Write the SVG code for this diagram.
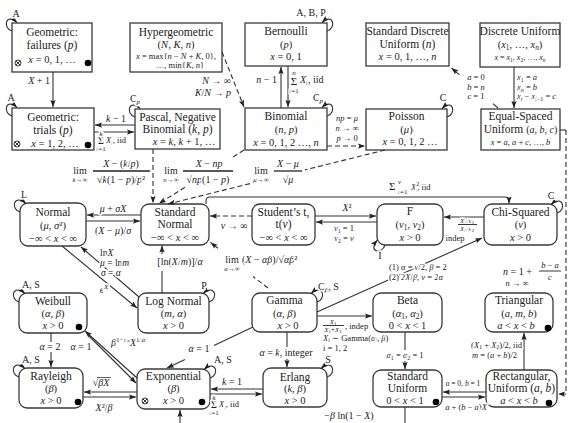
<svg xmlns="http://www.w3.org/2000/svg" width="572" height="423" viewBox="0 0 572 423">
<style>
.box{fill:#fff;stroke:#3a3a3a;stroke-width:1.3}
text{font-family:"Liberation Serif","DejaVu Serif",serif;fill:#222}
.t{font-size:11.5px;text-anchor:middle}
.v{font-size:10.5px;text-anchor:middle}
.lab{font-size:10px;text-anchor:middle;paint-order:stroke;stroke:#fff;stroke-width:3px;stroke-linejoin:round}
.sm{font-size:8.5px}
.xs{font-size:7px}
.st{text-anchor:start}
.en{text-anchor:end}
.i{font-style:italic}
.sb{font-size:70%}
.c{fill:none;stroke:#333;stroke-width:1.1}
.d{stroke-dasharray:5 3}
.bar{stroke:#222;stroke-width:1.3}
</style>
<defs>
<marker id="ah" viewBox="0 0 8 6" refX="8" refY="3" markerWidth="7" markerHeight="5.5" markerUnits="userSpaceOnUse" orient="auto"><path d="M0,0 L8,3 L0,6 L1.5,3 z" fill="#222"/></marker>
<g id="ot"><circle r="3" fill="#fff" stroke="#222" stroke-width="0.9"/><path d="M-2.1,-2.1 L2.1,2.1 M-2.1,2.1 L2.1,-2.1" stroke="#222" stroke-width="0.9"/></g>
<circle id="dt" r="3.3" fill="#000"/>
</defs>

<!-- nodes -->
<g id="geometric-failures">
<rect class="box" x="12" y="23" width="80" height="49"/>
<text class="t" x="52" y="36">Geometric:</text>
<text class="t" x="52" y="49">failures (<tspan class="i">p</tspan>)</text>
<text class="v" x="52" y="63"><tspan class="i">x</tspan> = 0, 1, …</text>
<use href="#ot" x="18" y="63"/><use href="#dt" x="88" y="63"/>
</g>
<g id="hypergeometric">
<rect class="box" x="130" y="23" width="92" height="49"/>
<text class="t" x="176" y="36">Hypergeometric</text>
<text class="v" x="176" y="48">(<tspan class="i">N</tspan>, <tspan class="i">K</tspan>, <tspan class="i">n</tspan>)</text>
<text class="v" x="176" y="59" style="font-size:8.5px"><tspan class="i">x</tspan> = max{<tspan class="i">n</tspan> − <tspan class="i">N</tspan> + <tspan class="i">K</tspan>, 0},</text>
<text class="v" x="180" y="67.5" style="font-size:8.5px">…, min{<tspan class="i">K</tspan>, <tspan class="i">n</tspan>}</text>
</g>
<g id="bernoulli">
<rect class="box" x="245" y="23" width="82" height="43"/>
<text class="t" x="286" y="35">Bernoulli</text>
<text class="v" x="286" y="48">(<tspan class="i">p</tspan>)</text>
<text class="v" x="286" y="60"><tspan class="i">x</tspan> = 0, 1</text>
</g>
<g id="standard-discrete-uniform">
<rect class="box" x="366" y="23" width="83" height="43"/>
<text class="t" x="407.5" y="35">Standard Discrete</text>
<text class="t" x="407.5" y="48">Uniform (<tspan class="i">n</tspan>)</text>
<text class="v" x="407.5" y="60"><tspan class="i">x</tspan> = 0, 1, …, <tspan class="i">n</tspan></text>
</g>
<g id="discrete-uniform">
<rect class="box" x="480" y="23" width="80" height="44"/>
<text class="t" x="520" y="35">Discrete Uniform</text>
<text class="v" x="520" y="48">(<tspan class="i">x</tspan><tspan class="sb" dy="2">1</tspan><tspan dy="-2">, …, </tspan><tspan class="i">x</tspan><tspan class="sb i" dy="2">n</tspan><tspan dy="-2">)</tspan></text>
<text class="v" x="520" y="60" style="font-size:8px"><tspan class="i">x</tspan> = <tspan class="i">x</tspan><tspan class="sb" dy="1.5">1</tspan><tspan dy="-1.5">, </tspan><tspan class="i">x</tspan><tspan class="sb" dy="1.5">2</tspan><tspan dy="-1.5">, …, </tspan><tspan class="i">x</tspan><tspan class="sb i" dy="1.5">n</tspan></text>
</g>

<g id="geometric-trials">
<rect class="box" x="12" y="108" width="82" height="42"/>
<text class="t" x="53" y="121">Geometric:</text>
<text class="t" x="53" y="134">trials (<tspan class="i">p</tspan>)</text>
<text class="v" x="55" y="147"><tspan class="i">x</tspan> = 1, 2, …</text>
<use href="#ot" x="17" y="144"/><use href="#dt" x="88" y="145"/>
</g>
<g id="pascal">
<rect class="box" x="135" y="109" width="85" height="40"/>
<text class="t" x="177.5" y="121">Pascal, Negative</text>
<text class="t" x="177.5" y="133">Binomial (<tspan class="i">k</tspan>, <tspan class="i">p</tspan>)</text>
<text class="v" x="184" y="145"><tspan class="i">x</tspan> = <tspan class="i">k</tspan>, <tspan class="i">k</tspan> + 1, …</text>
</g>
<g id="binomial">
<rect class="box" x="245" y="108" width="82" height="42"/>
<text class="t" x="286" y="120">Binomial</text>
<text class="v" x="286" y="133">(<tspan class="i">n</tspan>, <tspan class="i">p</tspan>)</text>
<text class="v" x="286" y="146"><tspan class="i">x</tspan> = 0, 1, 2 …, <tspan class="i">n</tspan></text>
</g>
<g id="poisson">
<rect class="box" x="366" y="109" width="81" height="41"/>
<text class="t" x="406.5" y="120">Poisson</text>
<text class="v" x="406.5" y="133">(<tspan class="i">μ</tspan>)</text>
<text class="v" x="410" y="145"><tspan class="i">x</tspan> = 0, 1, 2 …</text>
</g>
<g id="equal-spaced-uniform">
<rect class="box" x="481" y="109" width="79" height="41"/>
<text class="t" x="520.5" y="120">Equal-Spaced</text>
<text class="t" x="520.5" y="133">Uniform <tspan style="font-size:10px">(<tspan class="i">a</tspan>, <tspan class="i">b</tspan>, <tspan class="i">c</tspan>)</tspan></text>
<text class="v" x="520.5" y="145" style="font-size:8.5px"><tspan class="i">x</tspan> = <tspan class="i">a</tspan>, <tspan class="i">a</tspan> + <tspan class="i">c</tspan>, …, <tspan class="i">b</tspan></text>
</g>

<g id="normal">
<rect class="box" x="20" y="203" width="66" height="43" rx="8"/>
<text class="t" x="53" y="216">Normal</text>
<text class="v" x="53" y="229">(<tspan class="i">μ</tspan>, <tspan class="i">σ</tspan>²)</text>
<text class="v" x="53" y="242">−∞ &lt; <tspan class="i">x</tspan> &lt; ∞</text>
</g>
<g id="standard-normal">
<rect class="box" x="141" y="204" width="68" height="41" rx="8"/>
<text class="t" x="175" y="216">Standard</text>
<text class="t" x="175" y="228">Normal</text>
<text class="v" x="175" y="241">−∞ &lt; <tspan class="i">x</tspan> &lt; ∞</text>
</g>
<g id="students-t">
<rect class="box" x="252" y="204" width="63" height="41" rx="8"/>
<text class="t" x="283.5" y="216">Student’s t,</text>
<text class="t" x="283.5" y="228">t(<tspan class="i">ν</tspan>)</text>
<text class="v" x="283.5" y="241">−∞ &lt; <tspan class="i">x</tspan> &lt; ∞</text>
</g>
<g id="f">
<rect class="box" x="377" y="204" width="66" height="41" rx="8"/>
<text class="t" x="410" y="215">F</text>
<text class="v" x="410" y="228">(<tspan class="i">ν</tspan><tspan class="sb" dy="2">1</tspan><tspan dy="-2">, </tspan><tspan class="i">ν</tspan><tspan class="sb" dy="2">2</tspan><tspan dy="-2">)</tspan></text>
<text class="v" x="410" y="241"><tspan class="i">x</tspan> &gt; 0</text>
</g>
<g id="chi-squared">
<rect class="box" x="484" y="204" width="73" height="41" rx="8"/>
<text class="t" x="520.5" y="216">Chi-Squared</text>
<text class="v" x="520.5" y="228">(<tspan class="i">ν</tspan>)</text>
<text class="v" x="520.5" y="241"><tspan class="i">x</tspan> &gt; 0</text>
</g>

<g id="weibull">
<rect class="box" x="19" y="293" width="68" height="40" rx="8"/>
<text class="t" x="53" y="305">Weibull</text>
<text class="v" x="53" y="317">(<tspan class="i">α</tspan>, <tspan class="i">β</tspan>)</text>
<text class="v" x="53" y="329"><tspan class="i">x</tspan> &gt; 0</text>
<use href="#dt" x="79" y="327"/>
</g>
<g id="log-normal">
<rect class="box" x="138" y="293" width="71" height="40" rx="8"/>
<text class="t" x="173.5" y="305">Log Normal</text>
<text class="v" x="173.5" y="317">(<tspan class="i">m</tspan>, <tspan class="i">α</tspan>)</text>
<text class="v" x="173.5" y="329"><tspan class="i">x</tspan> &gt; 0</text>
</g>
<g id="gamma">
<rect class="box" x="252" y="293" width="65" height="39" rx="8"/>
<text class="t" x="284.5" y="304">Gamma</text>
<text class="v" x="284.5" y="317">(<tspan class="i">α</tspan>, <tspan class="i">β</tspan>)</text>
<text class="v" x="288" y="329"><tspan class="i">x</tspan> &gt; 0</text>
</g>
<g id="beta">
<rect class="box" x="373" y="293" width="69" height="39" rx="8"/>
<text class="t" x="407.5" y="304">Beta</text>
<text class="v" x="407.5" y="317">(<tspan class="i">α</tspan><tspan class="sb" dy="2">1</tspan><tspan dy="-2">, </tspan><tspan class="i">α</tspan><tspan class="sb" dy="2">2</tspan><tspan dy="-2">)</tspan></text>
<text class="v" x="407.5" y="329">0 &lt; <tspan class="i">x</tspan> &lt; 1</text>
</g>
<g id="triangular">
<rect class="box" x="485" y="293" width="68" height="39" rx="8"/>
<text class="t" x="519" y="304">Triangular</text>
<text class="v" x="519" y="317">(<tspan class="i">a</tspan>, <tspan class="i">m</tspan>, <tspan class="i">b</tspan>)</text>
<text class="v" x="516" y="329"><tspan class="i">a</tspan> &lt; <tspan class="i">x</tspan> &lt; <tspan class="i">b</tspan></text>
<use href="#dt" x="548" y="328"/>
</g>

<g id="rayleigh">
<rect class="box" x="19" y="368" width="64" height="40" rx="8"/>
<text class="t" x="51" y="380">Rayleigh</text>
<text class="v" x="51" y="392">(<tspan class="i">β</tspan>)</text>
<text class="v" x="51" y="404"><tspan class="i">x</tspan> &gt; 0</text>
<use href="#dt" x="78" y="402"/>
</g>
<g id="exponential">
<rect class="box" x="137" y="369" width="73" height="40" rx="8"/>
<text class="t" x="173.5" y="380">Exponential</text>
<text class="v" x="173.5" y="392">(<tspan class="i">β</tspan>)</text>
<text class="v" x="173.5" y="404"><tspan class="i">x</tspan> &gt; 0</text>
<use href="#ot" x="145" y="401"/><use href="#dt" x="202" y="402"/>
</g>
<g id="erlang">
<rect class="box" x="263" y="368" width="64" height="39" rx="8"/>
<text class="t" x="295" y="381">Erlang</text>
<text class="v" x="295" y="392">(<tspan class="i">k</tspan>, <tspan class="i">β</tspan>)</text>
<text class="v" x="295" y="404"><tspan class="i">x</tspan> &gt; 0</text>
</g>
<g id="standard-uniform">
<rect class="box" x="373" y="370" width="69" height="37" rx="8"/>
<text class="t" x="407.5" y="380">Standard</text>
<text class="t" x="407.5" y="392">Uniform</text>
<text class="v" x="405" y="404">0 &lt; <tspan class="i">x</tspan> &lt; 1</text>
<use href="#dt" x="436" y="402"/>
</g>
<g id="rectangular-uniform">
<rect class="box" x="486" y="370" width="71" height="37" rx="8"/>
<text class="t" x="521.5" y="380">Rectangular,</text>
<text class="t" x="521.5" y="392">Uniform (<tspan class="i">a</tspan>, <tspan class="i">b</tspan>)</text>
<text class="v" x="519" y="404"><tspan class="i">a</tspan> &lt; <tspan class="i">x</tspan> &lt; <tspan class="i">b</tspan></text>
<use href="#dt" x="549" y="403"/>
</g>

<!-- connectors -->
<g id="connectors">
<!-- self loops -->
<path class="c" marker-end="url(#ah)" d="M12 31 C2 28 6 12 17 22.5"/>
<path class="c" marker-end="url(#ah)" d="M12 116 C2 113 6 97 17 107.5"/>
<path class="c" marker-end="url(#ah)" d="M135 117 C125 114 129 98 140 108.5"/>
<path class="c" marker-end="url(#ah)" d="M327 31 C337 28 333 12 322 22.5"/>
<path class="c" marker-end="url(#ah)" d="M327 116 C337 113 333 97 322 107.5"/>
<path class="c" marker-end="url(#ah)" d="M447 117 C457 114 453 98 442 108.5"/>
<path class="c" marker-end="url(#ah)" d="M20 212 C10 209 14 193 26 203.5"/>
<path class="c" marker-end="url(#ah)" d="M557 213 C567 210 563 194 551 204.5"/>
<path class="c" marker-end="url(#ah)" d="M385 245 C382 255 367 252 377.5 240"/>
<path class="c" marker-end="url(#ah)" d="M19 302 C9 299 13 283 25 293.5"/>
<path class="c" marker-end="url(#ah)" d="M19 377 C9 374 13 358 25 368.5"/>
<path class="c" marker-end="url(#ah)" d="M209 302 C219 299 215 283 203 293.5"/>
<path class="c" marker-end="url(#ah)" d="M317 302 C327 299 323 283 311 293.5"/>
<path class="c" marker-end="url(#ah)" d="M210 378 C220 375 216 359 204 369.5"/>
<path class="c" marker-end="url(#ah)" d="M327 377 C337 374 333 358 321 368.5"/>
<text class="lab" x="16" y="17">A</text>
<text class="lab" x="11" y="101">A</text>
<text class="lab" x="135" y="102">C<tspan class="sb i" dy="2">p</tspan></text>
<text class="lab" x="311" y="16">A, B, P</text>
<text class="lab" x="318" y="101">C<tspan class="sb i" dy="2">p</tspan></text>
<text class="lab" x="443" y="101">C</text>
<text class="lab" x="24" y="198">L</text>
<text class="lab" x="551" y="199">C</text>
<text class="lab" x="380" y="259">I</text>
<text class="lab" x="31" y="288">A, S</text>
<text class="lab" x="31" y="363">A, S</text>
<text class="lab" x="204" y="289">P</text>
<text class="lab st" x="318" y="290">C<tspan class="sb i" dy="2">β</tspan><tspan dy="-2">, S</tspan></text>
<text class="lab" x="223" y="363">A, S</text>
<text class="lab" x="328" y="363">S</text>

<!-- top rows -->
<path class="c" marker-end="url(#ah)" d="M53 72 V107"/>
<text class="lab en" x="50" y="84"><tspan class="i">X</tspan> + 1</text>

<path class="c" marker-end="url(#ah)" d="M135 125 H95"/>
<path class="c" marker-end="url(#ah)" d="M94 132 H134"/>
<text class="lab" x="116" y="122"><tspan class="i">k</tspan> − 1</text>
<text class="lab" x="101" y="144" style="font-size:10px">Σ</text>
<text class="lab xs i" x="101" y="135.5">k</text>
<text class="lab xs" x="101" y="150.5"><tspan class="i">i</tspan>=1</text>
<text class="lab sm st" x="106" y="143"><tspan class="i">X</tspan><tspan class="sb i" dy="2">i</tspan><tspan dy="-2">, iid</tspan></text>

<path class="c d" marker-end="url(#ah)" d="M222 52 L244 107"/>
<text class="lab en" x="231" y="84"><tspan class="i">N</tspan> → ∞</text>
<text class="lab en" x="231" y="96"><tspan class="i">K</tspan>/<tspan class="i">N</tspan> → <tspan class="i">p</tspan></text>

<path class="c" marker-end="url(#ah)" d="M281 108 V67"/>
<path class="c" marker-end="url(#ah)" d="M288 66 V107"/>
<text class="lab en" x="277" y="83"><tspan class="i">n</tspan> − 1</text>
<text class="lab" x="294" y="85" style="font-size:11px">Σ</text>
<text class="lab xs i" x="294" y="74.5">n</text>
<text class="lab xs" x="294" y="92.5"><tspan class="i">i</tspan>=1</text>
<text class="lab st" x="300" y="83"><tspan class="i">X</tspan><tspan class="sb i" dy="2">i</tspan><tspan dy="-2">,  iid</tspan></text>

<path class="c d" marker-end="url(#ah)" d="M327 146 H365"/>
<text class="lab sm" x="347" y="121"><tspan class="i">np</tspan> = <tspan class="i">μ</tspan></text>
<text class="lab sm" x="347" y="131"><tspan class="i">n</tspan> → ∞</text>
<text class="lab sm" x="347" y="141"><tspan class="i">p</tspan> → 0</text>

<path class="c" marker-end="url(#ah)" d="M514 67 V108"/>
<text class="lab sm st" x="517" y="80"><tspan class="i">x</tspan><tspan class="sb" dy="2">1</tspan><tspan dy="-2"> = </tspan><tspan class="i">a</tspan></text>
<text class="lab sm st" x="517" y="89.5"><tspan class="i">x</tspan><tspan class="sb i" dy="2">n</tspan><tspan dy="-2"> = </tspan><tspan class="i">b</tspan></text>
<text class="lab sm st" x="517" y="99"><tspan class="i">x</tspan><tspan class="sb i" dy="2">i</tspan><tspan dy="-2"> − </tspan><tspan class="i">x</tspan><tspan class="sb" dy="2"><tspan class="i">i</tspan>−1</tspan><tspan dy="-2"> = </tspan><tspan class="i">c</tspan></text>
<path class="c" marker-end="url(#ah)" d="M498 108 L493 103.7 M459.5 74.8 L451.5 68"/>
<text class="lab sm" x="476" y="80"><tspan class="i">a</tspan> = 0</text>
<text class="lab sm" x="476" y="89.5"><tspan class="i">b</tspan> = <tspan class="i">n</tspan></text>
<text class="lab sm" x="476" y="99"><tspan class="i">c</tspan> = 1</text>

<!-- limits to standard normal -->
<path class="c d" marker-end="url(#ah)" d="M153 149 V203"/>
<path class="c d" marker-end="url(#ah)" d="M244 150 L233 157 M185 187.3 L159 203.5"/>
<path class="c d" marker-end="url(#ah)" d="M385 150 L305 169.9 M250 183.6 L168 204"/>
<text class="lab" x="80" y="174">lim</text>
<text class="lab xs" x="80" y="181.5"><tspan class="i">k</tspan>→∞</text>
<text class="lab" x="121" y="167"><tspan class="i">X</tspan> − (<tspan class="i">k</tspan>/<tspan class="i">p</tspan>)</text>
<line class="bar" x1="93" y1="171" x2="150" y2="171"/>
<text class="lab" x="121" y="183">√<tspan class="i">k</tspan>(1 − <tspan class="i">p</tspan>)/<tspan class="i">p</tspan>²</text>
<text class="lab" x="171" y="174">lim</text>
<text class="lab xs" x="171" y="181.5"><tspan class="i">n</tspan>→∞</text>
<text class="lab" x="209" y="167"><tspan class="i">X</tspan> − <tspan class="i">np</tspan></text>
<line class="bar" x1="183" y1="171" x2="233" y2="171"/>
<text class="lab" x="208" y="183">√<tspan class="i">np</tspan>(1 − <tspan class="i">p</tspan>)</text>
<text class="lab" x="261" y="174">lim</text>
<text class="lab xs" x="261" y="181.5"><tspan class="i">μ</tspan>→∞</text>
<text class="lab" x="288" y="167"><tspan class="i">X</tspan> − <tspan class="i">μ</tspan></text>
<line class="bar" x1="274" y1="171" x2="302" y2="171"/>
<text class="lab" x="288" y="183">√<tspan class="i">μ</tspan></text>

<!-- third row -->
<path class="c" marker-end="url(#ah)" d="M141 215 H87"/>
<path class="c" marker-end="url(#ah)" d="M86 221 H140"/>
<text class="lab" x="113" y="212"><tspan class="i">μ</tspan> + <tspan class="i">σX</tspan></text>
<text class="lab" x="113" y="234">(<tspan class="i">X</tspan> − <tspan class="i">μ</tspan>)/<tspan class="i">σ</tspan></text>

<path class="c d" marker-end="url(#ah)" d="M252 216 H210"/>
<text class="lab" x="234" y="229"><tspan class="i">ν</tspan> → ∞</text>

<path class="c" marker-end="url(#ah)" d="M315 216 H376"/>
<path class="c" marker-end="url(#ah)" d="M377 222 H316"/>
<text class="lab" x="347" y="211"><tspan class="i">X</tspan>²</text>
<text class="lab sm" x="344" y="231"><tspan class="i">ν</tspan><tspan class="sb" dy="2">1</tspan><tspan dy="-2"> = 1</tspan></text>
<text class="lab sm" x="344" y="240.5"><tspan class="i">ν</tspan><tspan class="sb" dy="2">2</tspan><tspan dy="-2"> = </tspan><tspan class="i">ν</tspan></text>

<path class="c" marker-end="url(#ah)" d="M206 204 V201 Q206 197 210 197 H505 Q509 197 509 201 V203.5"/>
<text class="lab st" x="389" y="190" style="font-size:11px">Σ</text>
<text class="lab xs st" x="398" y="184"><tspan class="i">ν</tspan></text>
<text class="lab xs st" x="398" y="193.5"><tspan class="i">i</tspan>=1</text>
<text class="lab sm st" x="411" y="190"><tspan class="i">X</tspan><tspan class="sb" dy="-4">2</tspan><tspan class="sb i" dx="-3.5" dy="6">i</tspan><tspan dy="-2">, iid</tspan></text>

<path class="c" marker-end="url(#ah)" d="M484 217 H444"/>
<text class="lab xs" x="467" y="222.5"><tspan class="i">X</tspan><tspan class="sb" dy="1">1</tspan><tspan dy="-1">/</tspan><tspan class="i">ν</tspan><tspan class="sb" dy="1">1</tspan></text>
<line class="bar" x1="458" y1="224.5" x2="477" y2="224.5" style="stroke-width:0.9"/>
<text class="lab xs" x="467" y="231"><tspan class="i">X</tspan><tspan class="sb" dy="1">2</tspan><tspan dy="-1">/</tspan><tspan class="i">ν</tspan><tspan class="sb" dy="1">2</tspan></text>
<text class="lab sm" x="455" y="240.5">indep</text>

<path class="c" marker-end="url(#ah)" d="M317 312 L482 238"/>
<text class="lab sm st" x="389" y="270">(1) <tspan class="i">α</tspan> = <tspan class="i">ν</tspan>/2, <tspan class="i">β</tspan> = 2</text>
<text class="lab sm st" x="389" y="280">(2) 2<tspan class="i">X</tspan>/<tspan class="i">β</tspan>, <tspan class="i">ν</tspan> = 2<tspan class="i">α</tspan></text>

<path class="c" marker-end="url(#ah)" d="M317 316 H372"/>
<text class="lab xs" x="333" y="323.5"><tspan class="i">X</tspan><tspan class="sb" dy="1">1</tspan></text>
<line class="bar" x1="323" y1="325.5" x2="344" y2="325.5" style="stroke-width:0.9"/>
<text class="lab xs" x="333" y="331.5"><tspan class="i">X</tspan><tspan class="sb" dy="1">1</tspan><tspan dy="-1">+</tspan><tspan class="i">X</tspan><tspan class="sb" dy="1">2</tspan></text>
<text class="lab sm st" x="345" y="329">, indep</text>
<text class="lab sm st" x="323" y="340.5"><tspan class="i">X</tspan><tspan class="sb i" dy="1.5">i</tspan><tspan dy="-1.5"> ∼ Gamma(</tspan><tspan class="i">α</tspan><tspan class="sb i" dy="1.5">i</tspan><tspan dy="-1.5">, </tspan><tspan class="i">β</tspan>)</text>
<text class="lab sm st" x="323" y="351">i = 1, 2</text>

<path class="c d" marker-end="url(#ah)" d="M268 288 L253 276.5 M218 248.3 L210.5 242.4"/>
<text class="lab" x="232" y="263">lim</text>
<text class="lab xs" x="232" y="270.5"><tspan class="i">α</tspan>→∞</text>
<text class="lab st" x="242" y="263">(<tspan class="i">X</tspan> − <tspan class="i">αβ</tspan>)/√<tspan class="i">αβ</tspan>²</text>

<path class="c" marker-end="url(#ah)" d="M162 293 V271 M162 254 V245.5"/>
<text class="lab" x="180" y="265">[ln(<tspan class="i">X</tspan>/<tspan class="i">m</tspan>)]/<tspan class="i">α</tspan></text>

<path class="c" marker-end="url(#ah)" d="M139 297 L81 247"/>
<path class="c" marker-end="url(#ah)" d="M62 246 L137 308"/>
<text class="lab st" x="100" y="256" style="font-size:9.5px">ln<tspan class="i">X</tspan></text>
<text class="lab st" x="100" y="266" style="font-size:9.5px"><tspan class="i">μ</tspan> = ln<tspan class="i">m</tspan></text>
<text class="lab st" x="101" y="276" style="font-size:9.5px"><tspan class="i">σ</tspan> = <tspan class="i">α</tspan></text>
<text class="lab" x="104" y="293"><tspan class="i">e</tspan><tspan class="sb i" dy="-4">X</tspan></text>

<!-- bottom rows -->
<path class="c" marker-end="url(#ah)" d="M51 333 V342 M51 352 V367"/>
<text class="lab" x="50" y="350"><tspan class="i">α</tspan> = 2</text>
<path class="c" marker-end="url(#ah)" d="M137 378 L85 331"/>
<path class="c" marker-end="url(#ah)" d="M89 336 L136 383"/>
<text class="lab" x="81" y="350"><tspan class="i">α</tspan> = 1</text>
<text class="lab st" x="111" y="346"><tspan class="i">β</tspan><tspan class="xs" dy="-4">1−</tspan><tspan class="xs" style="font-size:5px">1/</tspan><tspan class="xs i" style="font-size:5px">α</tspan><tspan class="i" dy="4">X</tspan><tspan class="xs" dy="-4">1/</tspan><tspan class="xs i">α</tspan></text>

<path class="c" marker-end="url(#ah)" d="M137 392 H84"/>
<path class="c" marker-end="url(#ah)" d="M83 397 H136"/>
<text class="lab" x="101" y="386">√<tspan class="i">βX</tspan></text>
<line class="bar" x1="97" y1="377.5" x2="111" y2="377.5" style="stroke-width:0.7"/>
<text class="lab" x="104" y="411"><tspan class="i">X</tspan>²/<tspan class="i">β</tspan></text>

<path class="c" marker-end="url(#ah)" d="M253 327 L214 345.6 M185 359.4 L167 368"/>
<text class="lab" x="199" y="352"><tspan class="i">α</tspan> = 1</text>

<path class="c" marker-end="url(#ah)" d="M287 332 V347 M287 359 V367"/>
<text class="lab" x="286" y="356"><tspan class="i">α</tspan> = <tspan class="i">k</tspan>, integer</text>

<path class="c" marker-end="url(#ah)" d="M263 389 H211"/>
<path class="c" marker-end="url(#ah)" d="M210 394 H262"/>
<text class="lab" x="232" y="385"><tspan class="i">k</tspan> = 1</text>
<text class="lab" x="214" y="408" style="font-size:10px">Σ</text>
<text class="lab xs i" x="214" y="399.5">k</text>
<text class="lab xs" x="214" y="414.5"><tspan class="i">i</tspan>=1</text>
<text class="lab sm st" x="219" y="407"><tspan class="i">X</tspan><tspan class="sb i" dy="2">i</tspan><tspan dy="-2">, iid</tspan></text>

<path class="c" marker-end="url(#ah)" d="M405 407 V426 H180 V410"/>
<text class="lab" x="349" y="419">−<tspan class="i">β</tspan> ln(1 − <tspan class="i">X</tspan>)</text>

<path class="c" marker-end="url(#ah)" d="M405 332 V350 M405 361 V369"/>
<text class="lab sm" x="405" y="358"><tspan class="i">α</tspan><tspan class="sb" dy="2">1</tspan><tspan dy="-2"> = </tspan><tspan class="i">α</tspan><tspan class="sb" dy="2">2</tspan><tspan dy="-2"> = 1</tspan></text>

<path class="c" marker-end="url(#ah)" d="M486 392 H443"/>
<path class="c" marker-end="url(#ah)" d="M442 397 H485"/>
<text class="lab sm" x="463" y="386" style="font-size:7.5px"><tspan class="i">a</tspan> = 0, <tspan class="i">b</tspan> = 1</text>
<text class="lab sm" x="466" y="410"><tspan class="i">a</tspan> + (<tspan class="i">b</tspan> − <tspan class="i">a</tspan>)<tspan class="i">X</tspan></text>

<path class="c" marker-end="url(#ah)" d="M524 370 V333"/>
<text class="lab sm en" x="522" y="347.5">(<tspan class="i">X</tspan><tspan class="sb" dy="1.5">1</tspan><tspan dy="-1.5"> + </tspan><tspan class="i">X</tspan><tspan class="sb" dy="1.5">2</tspan><tspan dy="-1.5">)/2, iid</tspan></text>
<text class="lab sm en" x="517" y="358"><tspan class="i">m</tspan> = (<tspan class="i">a</tspan> + <tspan class="i">b</tspan>)/2</text>

<path class="c" d="M560 130 H566"/>
<path class="c d" marker-end="url(#ah)" d="M566 130 V394 H558"/>
<text class="lab st" x="503" y="275"><tspan class="i">n</tspan> = 1 +</text>
<text class="lab sm" x="550" y="268"><tspan class="i">b</tspan> − <tspan class="i">a</tspan></text>
<line class="bar" x1="539" y1="271" x2="561" y2="271" style="stroke-width:0.9"/>
<text class="lab sm" x="550" y="280"><tspan class="i">c</tspan></text>
<text class="lab sm" x="517" y="285.5"><tspan class="i">n</tspan> → ∞</text>
</g>
</svg>
